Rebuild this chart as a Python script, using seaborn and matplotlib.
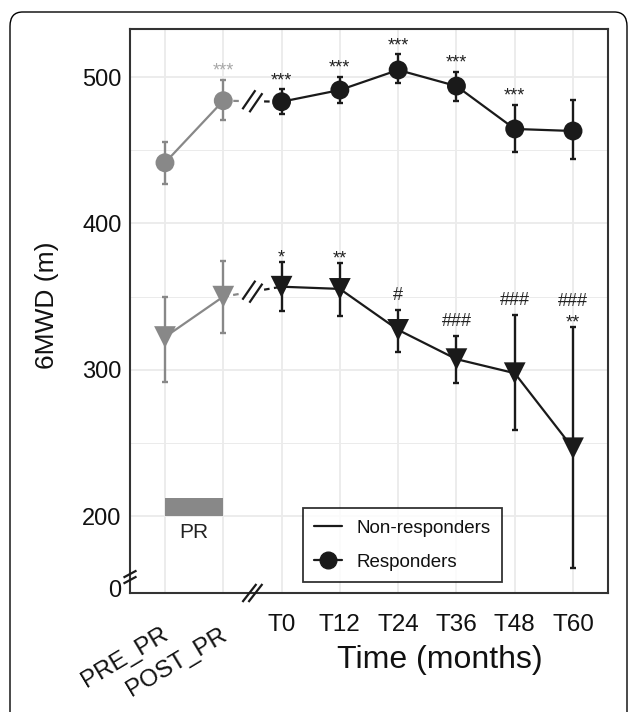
import matplotlib
matplotlib.use("Agg")
import matplotlib.pyplot as plt
from matplotlib.lines import Line2D
from matplotlib.patches import FancyBboxPatch
from matplotlib.transforms import ScaledTranslation
import numpy as np
import pandas as pd
import seaborn as sns

# values
timepoints = ['PRE_PR', 'POST_PR', 'T0', 'T12', 'T24', 'T36', 'T48', 'T60']
resp_mean = [441.4, 483.8, 483.1, 491.1, 504.8, 493.8, 464.5, 463.1]
resp_lo = [426.9, 470.6, 474.5, 482.4, 495.7, 483.8, 448.5, 444.0]
resp_hi = [455.8, 497.9, 491.6, 500.2, 515.5, 503.6, 480.9, 484.3]
nonresp_mean = [322.3, 349.9, 356.7, 355.2, 327.2, 307.2, 297.6, 246.3]
nonresp_lo = [291.8, 325.1, 340.1, 336.7, 311.9, 290.7, 258.8, 164.7]
nonresp_hi = [349.5, 374.5, 373.4, 372.7, 340.8, 323.1, 337.4, 328.9]
resp_stars = ['', '***', '***', '***', '***', '***', '***', '']
nonresp_stars = ['', '', '*', '**', '', '', '', '**']
nonresp_hash = ['', '', '', '', '#', '###', '###', '###']
y_ticks = [200, 300, 400, 500]
y_minor = [250, 350, 450]
zero_pos = 150.8  # where the broken axis puts "0"
pr_band = (200, 212)

GREY = '#888888'
BLACK = '#1a1a1a'
LIGHT = '#a8a8a8'
TXT = '#111111'

sns.set_theme(style='white')
plt.rcParams['font.family'] = ['Liberation Sans', 'DejaVu Sans']

x = np.arange(1, len(timepoints) + 1)
phase = ['pre', 'pre'] + ['follow'] * 6
df = pd.concat([
    pd.DataFrame({'pos': x, 'mean': resp_mean, 'lo': resp_lo, 'hi': resp_hi,
                  'group': 'Responders', 'phase': phase}),
    pd.DataFrame({'pos': x, 'mean': nonresp_mean, 'lo': nonresp_lo, 'hi': nonresp_hi,
                  'group': 'Non-responders', 'phase': phase}),
], ignore_index=True)

fig = plt.figure(figsize=(6.29, 7.12), dpi=100)
ax = fig.add_axes([130 / 629, 1 - 593 / 712, 478 / 629, 564 / 712])
ax.set_xlim(0.4, 8.6)
ax.set_ylim(147.4, 532.8)

# grid
ax.set_xticks(x)
ax.set_yticks(y_ticks)
ax.grid(True, which='major', color='#ebebeb', lw=1.3, zorder=0)
for v in y_minor:
    ax.axhline(v, color='#ebebeb', lw=0.7, zorder=0)
ax.set_yticks([zero_pos], minor=True)
ax.set_yticklabels(['0'], minor=True)

# PR band
ax.fill_between([1, 2], pr_band[0], pr_band[1], color=GREY, lw=0, zorder=1)
ax.text(1.5, 189, 'PR', ha='center', va='center', fontsize=15, color='#222222')

# solid segments
pal = {'pre': GREY, 'follow': BLACK}
sns.lineplot(data=df, x='pos', y='mean', hue='phase', units='group', estimator=None,
             palette=pal, lw=1.6, legend=False, ax=ax, zorder=2)

# dashed bridge across the break
for grp in ['Responders', 'Non-responders']:
    d = df[df.group == grp].set_index('pos')
    y2, y3 = d.loc[2, 'mean'], d.loc[3, 'mean']
    ax.plot([2, 2.3], [y2, y2 + 0.3 * (y3 - y2)], ls=(0, (2.5, 2)), color=GREY, lw=1.6, zorder=2)
    ax.plot([2.7, 3], [y2 + 0.7 * (y3 - y2), y3], ls=(0, (2.5, 2)), color=BLACK, lw=1.6, zorder=2)

# error bars
for (grp, ph), d in df.groupby(['group', 'phase']):
    ax.errorbar(d['pos'], d['mean'], yerr=[d['mean'] - d['lo'], d['hi'] - d['mean']],
                fmt='none', ecolor=pal[ph], elinewidth=1.7, capsize=2, capthick=1.7, zorder=3)

# markers
sns.scatterplot(data=df, x='pos', y='mean', hue='phase', style='group', palette=pal,
                markers={'Responders': 'o', 'Non-responders': 'v'}, size='group',
                sizes={'Responders': 185, 'Non-responders': 245}, linewidth=0,
                legend=False, ax=ax, zorder=4)

# significance labels
for i in range(len(timepoints)):
    if resp_stars[i]:
        ax.text(x[i], resp_hi[i] + 2.9, resp_stars[i], ha='center', va='baseline', fontsize=13,
                color=LIGHT if i < 2 else '#222222')
    if nonresp_stars[i]:
        ax.text(x[i], nonresp_hi[i] - 0.1, nonresp_stars[i], ha='center', va='baseline',
                fontsize=13, color='#222222')
    if nonresp_hash[i]:
        off = 14.7 if nonresp_stars[i] else 6.9
        ax.text(x[i], nonresp_hi[i] + off, nonresp_hash[i], ha='center', va='baseline',
                fontsize=13, color='#222222')


def slashes(xy, d, shift, trans):
    p = trans.transform(xy)
    inv = ax.transData.inverted()
    for s in (-0.5, 0.5):
        c = p + np.array(shift) * s
        a = inv.transform(c - np.array(d) / 2)
        b = inv.transform(c + np.array(d) / 2)
        ax.plot([a[0], b[0]], [a[1], b[1]], color=BLACK, lw=1.6, clip_on=False, zorder=5,
                solid_capstyle='butt')


# break marks on the series, x axis and y axis
for grp in ['Responders', 'Non-responders']:
    d = df[df.group == grp].set_index('pos')
    slashes((2.5, (d.loc[2, 'mean'] + d.loc[3, 'mean']) / 2), (13, 19), (7, -3), ax.transData)
slashes((2.5, 147.4), (14, 18), (6, 0), ax.transData)
slashes((0.4, 158.3), (13, 7), (0, 6), ax.transData)

# axes styling
for sp in ax.spines.values():
    sp.set_color('#333333')
    sp.set_linewidth(1.5)
ax.tick_params(axis='both', which='both', direction='out', length=4, width=1.2,
               color='#333333', labelcolor=TXT)
ax.tick_params(axis='y', which='both', labelsize=17, pad=2)
ax.tick_params(axis='x', labelsize=17.5, pad=11)
ax.set_xticklabels(timepoints)
shift = ScaledTranslation(-3 / 72, -7 / 72, fig.dpi_scale_trans)
for lbl in ax.get_xticklabels()[:2]:
    lbl.set_rotation(31)
    lbl.set_ha('right')
    lbl.set_va('top')
    lbl.set_rotation_mode('anchor')
    lbl.set_transform(lbl.get_transform() + shift)

ax.set_xlabel('Time (months)', fontsize=23, color=TXT)
ax.xaxis.set_label_coords((440 - 130) / 478, -0.093)
ax.set_ylabel('6MWD (m)', fontsize=19, color=TXT)
ax.yaxis.set_label_coords(-0.1485, 0.51)

handles = [Line2D([], [], color=BLACK, lw=1.6),
           Line2D([], [], color=BLACK, lw=1.6, marker='o', ms=12)]
leg = ax.legend(handles, ['Non-responders', 'Responders'], loc='lower left',
                bbox_to_anchor=(0.362, 0.0195), fontsize=13.5, frameon=True, fancybox=False,
                handlelength=1.5, borderpad=0.6, labelspacing=0.9, handletextpad=0.75,
                borderaxespad=0)
leg.get_frame().set_edgecolor('black')
leg.get_frame().set_linewidth(1.3)
for t in leg.get_texts():
    t.set_color(TXT)

# outer caption frame
frame = FancyBboxPatch((10 / 629, -0.2), 617 / 629, 1.2 - 12 / 712,
                       boxstyle='round,pad=0,rounding_size=0.02', transform=fig.transFigure,
                       fill=False, edgecolor='black', lw=1.0)
fig.patches.append(frame)

fig.savefig('out.png', dpi=100)
